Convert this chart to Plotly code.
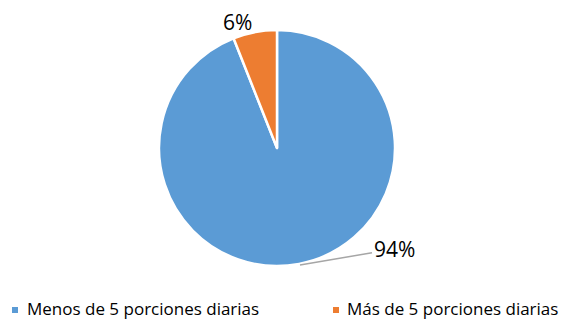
import plotly.graph_objects as go

categories = ["Menos de 5 porciones diarias", "Más de 5 porciones diarias"]
values = [94, 6]
colors = ["#5B9BD5", "#ED7D31"]

W, H = 564, 320
total = sum(values)
pct = [f"{round(v / total * 100)}%" for v in values]


def px(x):
    return x / W


def py(y):
    return 1 - y / H


fig = go.Figure(
    go.Pie(
        labels=categories,
        values=values,
        sort=False,
        direction="clockwise",
        rotation=0,
        marker=dict(colors=colors, line=dict(color="white", width=2.5)),
        textinfo="none",
        hoverinfo="label+percent",
        showlegend=False,
        domain=dict(x=[px(159), px(395)], y=[py(266), py(30)]),
    )
)

label_font = dict(family="Open Sans, sans-serif", size=21, color="#000000")

# percentage labels placed outside the pie
fig.add_annotation(
    x=px(237), y=py(22), xref="paper", yref="paper",
    xanchor="center", yanchor="middle",
    text=pct[1], showarrow=False, font=label_font,
)
fig.add_annotation(
    x=px(300), y=py(265), xref="paper", yref="paper",
    text=pct[0], showarrow=True, arrowhead=0, arrowwidth=1.5,
    arrowcolor="#A6A6A6", ax=94, ay=-16, font=label_font,
)

# legend row along the bottom: colour key squares and category names
legend_font = dict(family="Open Sans, sans-serif", size=17, color="#000000")
legend_pos = [(12, 25), (333, 345)]
for name, color, (sx, tx) in zip(categories, colors, legend_pos):
    fig.add_shape(
        type="rect", xref="paper", yref="paper",
        x0=px(sx), x1=px(sx + 6), y0=py(313), y1=py(307),
        fillcolor=color, line=dict(width=0),
    )
    fig.add_annotation(
        x=px(tx), y=py(308), xref="paper", yref="paper",
        xanchor="left", yanchor="middle",
        text=name, showarrow=False, font=legend_font,
    )

fig.update_layout(
    width=W, height=H,
    margin=dict(l=0, r=0, t=0, b=0, autoexpand=False),
    paper_bgcolor="white",
    plot_bgcolor="white",
    showlegend=False,
)

fig.write_html("out.html")
